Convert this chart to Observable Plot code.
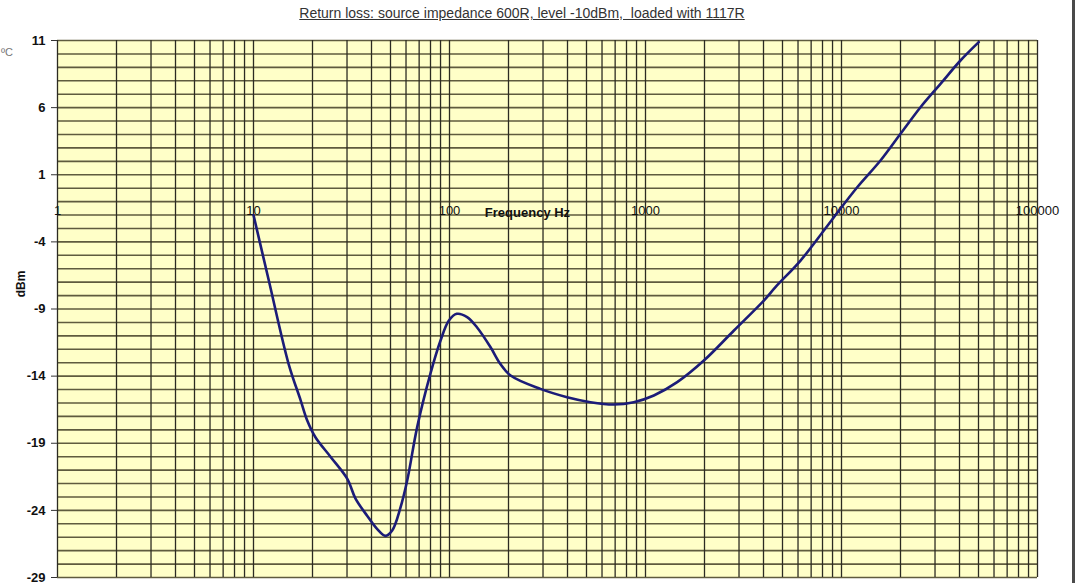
<!DOCTYPE html>
<html>
<head>
<meta charset="utf-8">
<script src="https://cdn.jsdelivr.net/npm/d3@7"></script>
<script src="https://cdn.jsdelivr.net/npm/@observablehq/plot@0.6"></script>
<style>
  html, body { margin: 0; padding: 0; background: #fff; overflow: hidden; }
  #wrap { position: relative; width: 1080px; height: 583px; font-family: Arial, "Liberation Sans", sans-serif; }
  #title { position: absolute; top: 5px; left: 0; width: 1044px; text-align: center; font-size: 14px; color: #333; white-space: pre; }
  #title span { text-decoration: underline; }
  #ylab { position: absolute; left: 21px; top: 284px; transform: translate(-50%, -50%) rotate(-90deg); font-size: 12px; font-weight: bold; color: #111; }
  #deg { position: absolute; left: 1px; top: 46px; font-size: 11px; color: #777; }
  #border { position: absolute; left: 1072px; top: 0; width: 3px; height: 583px; background: #4a4a4a; }
  #chart { position: absolute; left: 0; top: 0; }
</style>
</head>
<body>
<div id="wrap">
  <div id="chart"></div>
  <div id="title"><span>Return loss: source impedance 600R, level -10dBm,  loaded with 1117R</span></div>
  <div id="ylab">dBm</div>
  <div id="deg">ºC</div>
  <div id="border"></div>
</div>
<script>
// Frequency (Hz) and return loss (dBm)
const freq = [10, 11.97, 15.1, 17.4, 18.8, 20.7, 24.7, 30.1, 33.1, 38.0, 42.8, 47.1, 51, 56.2, 60.8, 68.4, 80, 90, 99.3, 109, 123, 138, 162, 181, 205, 291, 398, 524, 689, 871, 1103, 1451, 1985, 2826, 4017, 4603, 6180, 8128, 9148, 12030, 15810, 20000, 25300, 32000, 40450, 50150];
const dbm  = [-2.0, -6.88, -13.08, -15.8, -17.3, -18.55, -20.0, -21.65, -23.1, -24.4, -25.4, -25.9, -25.5, -23.8, -21.8, -17.8, -13.8, -11.35, -9.86, -9.36, -9.6, -10.36, -11.85, -13.05, -13.95, -14.95, -15.57, -15.94, -16.11, -15.94, -15.44, -14.45, -12.84, -10.6, -8.37, -7.37, -5.39, -3.15, -2.16, 0.07, 2.06, 4.05, 6.03, 7.77, 9.51, 10.88];

const xTickValues = [1, 10, 100, 1000, 10000, 100000];
const xTickLabels = ["1", "10", "100", "1000", "10000", "100000"];
const yTickValues = [11, 6, 1, -4, -9, -14, -19, -24, -29];
const xAxisTitle = "Frequency Hz";
const xAxisTitleAt = 250;   // frequency where the axis title sits
const xLabelRow = -1.66;    // dBm level of the x labels row
const xTitleRow = -1.85;

const data = freq.map((f, i) => ({f, v: dbm[i]}));
const yGrid = d3.range(-29, 12, 1);
const xGrid = [];
for (let k = 0; k < 5; k++) for (let m = 1; m < 10; m++) xGrid.push(m * Math.pow(10, k));
xGrid.push(100000);
const xLabels = xTickValues.map((v, i) => ({v, t: xTickLabels[i]}));

const chart = Plot.plot({
  width: 1080,
  height: 583,
  marginLeft: 57,
  marginRight: 43,
  marginTop: 40,
  marginBottom: 6,
  style: {background: "transparent", fontFamily: "Arial, 'Liberation Sans', sans-serif", overflow: "visible"},
  x: {type: "log", domain: [1, 100000], axis: null},
  y: {domain: [-29, 11], axis: null},
  marks: [
    Plot.frame({fill: "#FFFFC8", stroke: "none"}),
    Plot.ruleY(yGrid, {stroke: "#5f5b3e", strokeWidth: 1.6}),
    Plot.ruleX(xGrid, {stroke: "#2c2b22", strokeWidth: 1.3}),
    Plot.axisY({ticks: yTickValues, tickSize: 6, tickPadding: 6, fontSize: 13, fontWeight: "bold", stroke: "#333", fill: "#111", label: null, tickFormat: d => String(d)}),
    Plot.text(xLabels, {x: "v", y: () => xLabelRow, text: "t", fontSize: 13, fill: "#111", textAnchor: "middle"}),
    Plot.text([xAxisTitle], {x: () => xAxisTitleAt, y: () => xTitleRow, text: d => d, fontSize: 13, fontWeight: "bold", fill: "#111", textAnchor: "middle"}),
    Plot.line(data, {x: "f", y: "v", stroke: "#1c1c78", strokeWidth: 2.6, curve: "catmull-rom"})
  ]
});
document.getElementById("chart").appendChild(chart);
</script>
</body>
</html>
